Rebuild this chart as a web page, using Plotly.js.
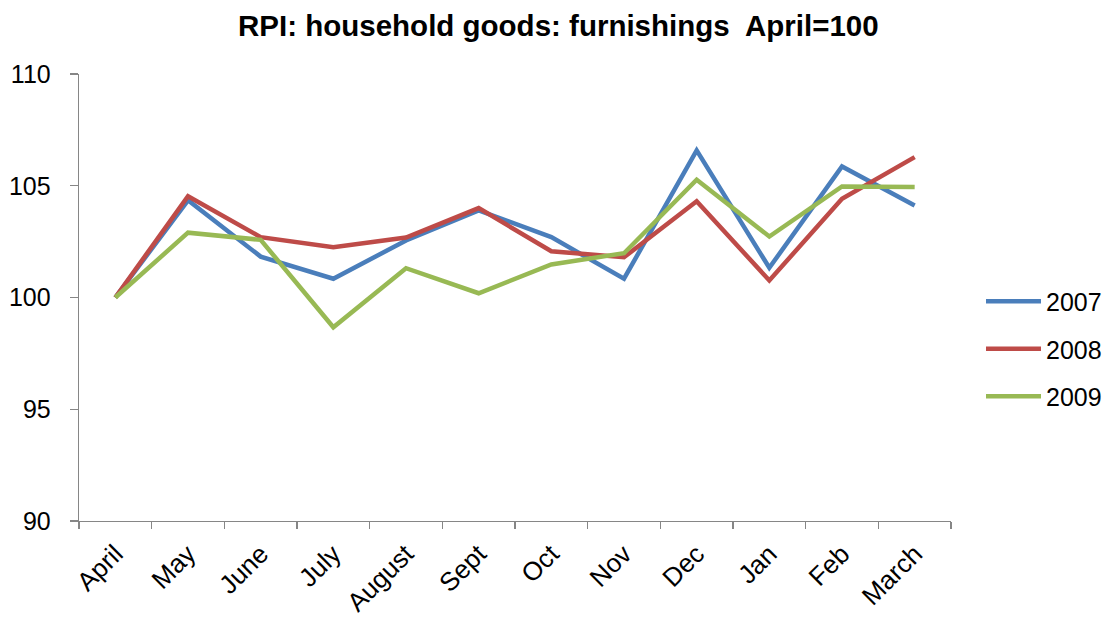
<!DOCTYPE html>
<html>
<head>
<meta charset="utf-8">
<script src="https://cdn.plot.ly/plotly-3.0.1.min.js"></script>
<style>html,body{margin:0;padding:0;background:#fff;}#chart{width:1110px;height:624px;}</style>
</head>
<body>
<div id="chart"></div>
<script>
const months = ["April","May","June","July","August","Sept","Oct","Nov","Dec","Jan","Feb","March"];
const s2007 = [100, 104.35, 101.83, 100.84, 102.55, 103.9, 102.7, 100.84, 106.58, 101.33, 105.86, 104.12];
const s2008 = [100, 104.53, 102.7, 102.25, 102.68, 104.0, 102.07, 101.8, 104.31, 100.76, 104.42, 106.28];
const s2009 = [100, 102.9, 102.58, 98.67, 101.31, 100.19, 101.48, 101.98, 105.27, 102.73, 104.97, 104.94];
const seriesNames = ["2007","2008","2009"];
const yTicks = [90, 95, 100, 105, 110];

const colors = ["#4A7EBB","#BE4B48","#98B954"];
const all = [s2007, s2008, s2009];
const traces = all.map((ys, i) => ({
  type: "scatter", mode: "lines", x: months, y: ys, name: seriesNames[i],
  legendgroup: "g" + i,
  line: {color: colors[i], width: 4.5}
}));

const font = "Liberation Sans, Arial, sans-serif";
const layout = {
  width: 1110, height: 624,
  margin: {l: 79, r: 159, t: 74, b: 103},
  paper_bgcolor: "#fff", plot_bgcolor: "#fff",
  showlegend: true,
  font: {family: font, color: "#000", size: 25},
  title: {
    text: "<b>RPI: household goods: furnishings  April=100</b>",
    font: {family: font, size: 29.5, color: "#000"},
    xref: "container", x: 0.503, xanchor: "center",
    yref: "container", y: 1 - 26/624, yanchor: "middle"
  },
  xaxis: {
    type: "category", range: [-0.5, 11.5],
    showline: true, linecolor: "#868686", linewidth: 1.3,
    ticks: "outside", tickson: "boundaries", ticklen: 7, tickcolor: "#868686", tickwidth: 1.3,
    tickangle: -45, ticklabelstandoff: 6,
    tickfont: {family: font, size: 26, color: "#000"},
    showgrid: false, zeroline: false, fixedrange: true
  },
  yaxis: {
    range: [90, 110], tickvals: yTicks, ticktext: yTicks.map(String),
    showline: true, linecolor: "#868686", linewidth: 1.3,
    ticks: "outside", ticklen: 8, tickcolor: "#868686", tickwidth: 1.3,
    ticklabelstandoff: 14,
    tickfont: {family: font, size: 25, color: "#000"},
    showgrid: false, zeroline: false, fixedrange: true
  },
  legend: {
    xref: "container", yref: "container",
    x: 981/1110, xanchor: "left", y: 1 - 349/624, yanchor: "middle",
    traceorder: "grouped", tracegroupgap: 12, itemwidth: 55,
    font: {family: font, size: 25, color: "#000"},
    bgcolor: "rgba(0,0,0,0)", borderwidth: 0
  }
};

Plotly.newPlot("chart", traces, layout, {displayModeBar: false, staticPlot: true});
</script>
</body>
</html>
